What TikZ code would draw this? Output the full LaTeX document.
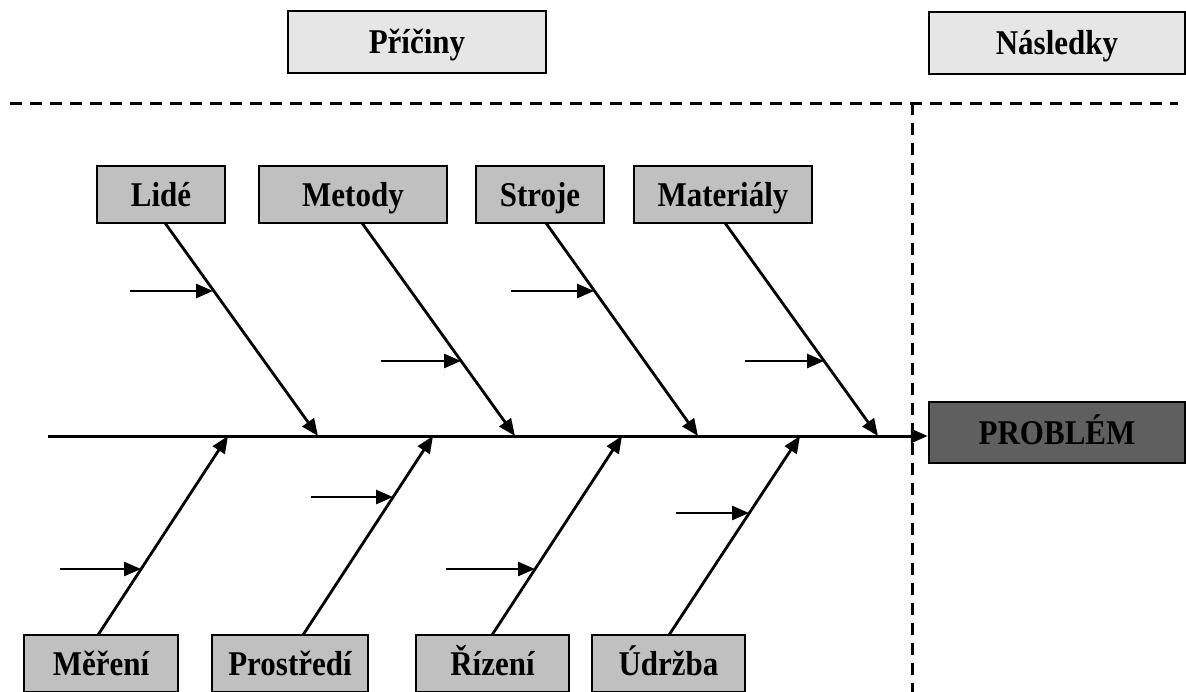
\documentclass[tikz,border=0pt]{standalone}
\usepackage{fontspec}
\setmainfont{Liberation Serif}
\usetikzlibrary{arrows.meta}
\definecolor{headfill}{HTML}{E6E6E6}
\definecolor{itemfill}{HTML}{C0C0C0}
\definecolor{probfill}{HTML}{5F5F5F}
\newcommand{\tall}[1]{\scalebox{1}[1.12]{#1}}
\begin{document}
\begin{tikzpicture}[x=1pt,y=-1pt,
  lbl/.style={font=\fontsize{31}{31}\selectfont\bfseries, inner sep=0pt, text height=23pt, text depth=0pt, draw=black, line width=2.5pt},
  headbox/.style={lbl, fill=headfill},
  itembox/.style={lbl, fill=itemfill, minimum height=57pt},
  probbox/.style={lbl, fill=probfill},
  bone/.style={line width=2.8pt, -{Triangle[length=17pt,width=14pt]}},
  spine/.style={line width=3pt, -{Triangle[length=17pt,width=14pt]}},
  sep/.style={line width=3pt, dash pattern=on 12pt off 8pt}]
\useasboundingbox (0,0) rectangle (1186,691);
\clip (0,0) rectangle (1186,691);
\fill[white] (0,0) rectangle (1186,691);

% header
\node[headbox, minimum width=258pt, minimum height=62pt] (pric) at (417,42) {\tall{Příčiny}};
\node[headbox, minimum width=256pt, minimum height=62pt] (nasl) at (1057,43) {\tall{Následky}};
\coordinate (hl) at (10,103);
\coordinate (hr) at (1178,103);
\coordinate (vt) at (912,103);
\coordinate (vb) at (912,700);
\draw[sep] (hl) -- (hr);
\draw[sep] (vt) -- (vb);

% problem
\node[probbox, minimum width=256pt, minimum height=61pt] (prob) at (1057,432.5) {\tall{PROBLÉM}};

% top category boxes
\node[itembox, minimum width=128pt] (lide) at (161,194.5) {\tall{Lidé}};
\node[itembox, minimum width=188pt] (metody) at (353,194.5) {\tall{Metody}};
\node[itembox, minimum width=128pt] (stroje) at (540,194.5) {\tall{Stroje}};
\node[itembox, minimum width=178pt] (mat) at (723,194.5) {\tall{Materiály}};

% bottom category boxes
\node[itembox, minimum width=154pt] (mereni) at (101,663.5) {\tall{Měření}};
\node[itembox, minimum width=156pt] (prostr) at (290,663.5) {\tall{Prostředí}};
\node[itembox, minimum width=153pt] (rizeni) at (492.5,663.5) {\tall{Řízení}};
\node[itembox, minimum width=153pt] (udrzba) at (668.5,663.5) {\tall{Údržba}};

% spine
\coordinate (tail) at (48,436);
\draw[spine] (tail) -- (tail -| prob.west);

% bone start points and tips
\coordinate (s1) at (165,223);  \coordinate (t1) at (318,436);
\coordinate (s2) at (362,223);  \coordinate (t2) at (515,436);
\coordinate (s3) at (546,223);  \coordinate (t3) at (698,436);
\coordinate (s4) at (725,223);  \coordinate (t4) at (878,436);
\coordinate (s5) at (98,635);   \coordinate (t5) at (228,436);
\coordinate (s6) at (303,635);  \coordinate (t6) at (433,436);
\coordinate (s7) at (492,635);  \coordinate (t7) at (622,436);
\coordinate (s8) at (669,635);  \coordinate (t8) at (800,436);
\foreach \i in {1,...,8} {\draw[bone] (s\i) -- (t\i);}

% sub-cause arrows
\coordinate (a1) at (130,291); \coordinate (b1) at (213,291);
\coordinate (a2) at (381,361); \coordinate (b2) at (461,361);
\coordinate (a3) at (511,291); \coordinate (b3) at (594,291);
\coordinate (a4) at (745,361); \coordinate (b4) at (824,361);
\coordinate (a5) at (60,569);  \coordinate (b5) at (141,569);
\coordinate (a6) at (311,497); \coordinate (b6) at (393,497);
\coordinate (a7) at (446,569); \coordinate (b7) at (535,569);
\coordinate (a8) at (676,513); \coordinate (b8) at (749,513);
\foreach \i in {1,...,8} {\draw[bone] (a\i) -- (b\i);}
\end{tikzpicture}
\end{document}
